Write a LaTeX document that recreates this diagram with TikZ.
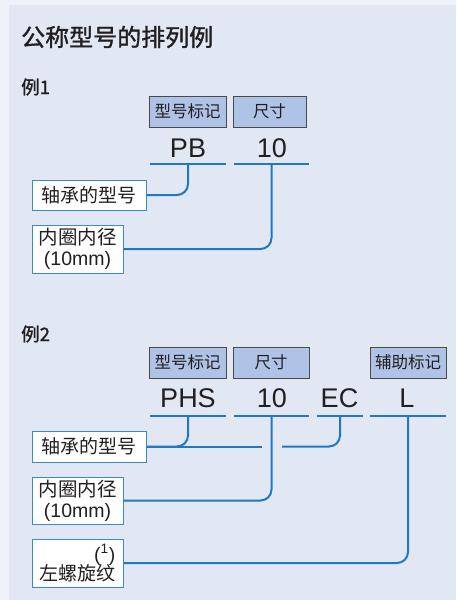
\documentclass[tikz,border=0pt]{standalone}
\usepackage{fontspec}
\setmainfont{Liberation Sans}
\newfontfamily\cjk{Noto Sans CJK SC}
\newfontfamily\cjkm[FakeBold=1.3]{Noto Sans CJK SC}
\definecolor{outerbg}{HTML}{EEF3F9}
\definecolor{innerbg}{HTML}{E1E8F4}
\definecolor{labelfill}{HTML}{AFC3E6}
\definecolor{labeldraw}{HTML}{4A4A4A}
\definecolor{lineblue}{HTML}{1F78C1}
\definecolor{boxblue}{HTML}{3A8AD0}
\definecolor{ink}{HTML}{231F20}
\tikzset{
  labelbox/.style={draw=labeldraw, line width=0.9pt, fill=labelfill, inner sep=0pt,
    minimum height=31pt, text=ink, font=\cjk\fontsize{16.5}{18}\selectfont},
  textbox/.style={draw=boxblue, line width=1pt, fill=white, inner sep=0pt,
    text=ink, align=center},
  code/.style={anchor=base, inner sep=0pt, text=ink, font=\fontsize{27}{30}\selectfont},
  uline/.style={fill=lineblue, inner sep=0pt, minimum height=2.2pt},
  conn/.style={draw=lineblue, line width=2pt, rounded corners=11pt},
  heading/.style={anchor=west, inner sep=0pt, text=ink},
}
\begin{document}
\begin{tikzpicture}[x=1pt,y=-1pt]
\fill[outerbg] (0,0) rectangle (456,600);
\fill[innerbg] (9,5) rectangle (456,600);
\useasboundingbox (0,0) rectangle (456,600);

\node[heading, font=\cjkm\fontsize{24}{26}\selectfont] (title) at (21,37) {公称型号的排列例};

% ---------- Example 1
\node[heading, font=\cjkm\fontsize{18.5}{20}\selectfont] (ex1) at (21,87) {例1};
\node[labelbox, minimum width=77pt] (a1) at (187.5,111.5) {型号标记};
\node[labelbox, minimum width=73pt] (a2) at (269.5,111.5) {尺寸};
\node[code] (c1) at (188,157) {PB};
\node[code] (c2) at (272,157) {10};
\node[uline, minimum width=76pt] (u1) at (188,164) {};
\node[uline, minimum width=75pt] (u2) at (271.5,164) {};
\node[textbox, minimum width=114pt, minimum height=30pt, font=\cjk\fontsize{19}{21}\selectfont] (b1) at (89,195) {轴承的型号};
\node[textbox, minimum width=91pt, minimum height=48pt, font=\fontsize{19.5}{21}\selectfont] (b2) at (77.5,249) {{\cjk 内圈内径}\\(10mm)};
\draw[conn] (u1.center) |- (b1.east);
\draw[conn] (u2.center) |- (b2.east);

% ---------- Example 2
\node[heading, font=\cjkm\fontsize{18.5}{20}\selectfont] (ex2) at (21,334) {例2};
\node[labelbox, minimum width=77pt] (d1) at (187.5,362.5) {型号标记};
\node[labelbox, minimum width=76pt] (d2) at (271,362.5) {尺寸};
\node[labelbox, minimum width=76pt] (d3) at (408,362.5) {辅助标记};
\node[code] (e1) at (188,407) {PHS};
\node[code] (e2) at (272,407) {10};
\node[code] (e3) at (339.5,407) {EC};
\node[code] (e4) at (407,407) {L};
\node[uline, minimum width=76pt] (v1) at (188,416) {};
\node[uline, minimum width=75pt] (v2) at (271.5,416) {};
\node[uline, minimum width=46pt] (v3) at (340,416) {};
\node[uline, minimum width=76pt] (v4) at (408,416) {};
\node[textbox, minimum width=114pt, minimum height=31pt, font=\cjk\fontsize{19}{21}\selectfont] (f1) at (89,446.5) {轴承的型号};
\node[textbox, minimum width=91pt, minimum height=47pt, font=\fontsize{19.5}{21}\selectfont] (f2) at (77.5,500.5) {{\cjk 内圈内径}\\(10mm)};
\node[textbox, minimum width=91pt, minimum height=48pt] (f3) at (77.5,563) {};
\node[anchor=base east, inner sep=0pt, text=ink, font=\fontsize{19.5}{21}\selectfont] (n1) at (115.5,561) {(\textsuperscript{1})};
\node[anchor=center, inner sep=0pt, text=ink, font=\cjk\fontsize{19}{21}\selectfont] (n2) at (77.5,573) {左螺旋纹};
\coordinate (g1) at (262,446.5);
\coordinate (g2) at (282,446.5);
\draw[conn] (v1.center) |- (f1.east);
\draw[conn] (f1.east) -- (g1);
\draw[conn] (v3.center) |- (g2);
\draw[conn] (v2.center) |- (f2.east);
\draw[conn] (v4.center) |- (f3.east);
\end{tikzpicture}
\end{document}
